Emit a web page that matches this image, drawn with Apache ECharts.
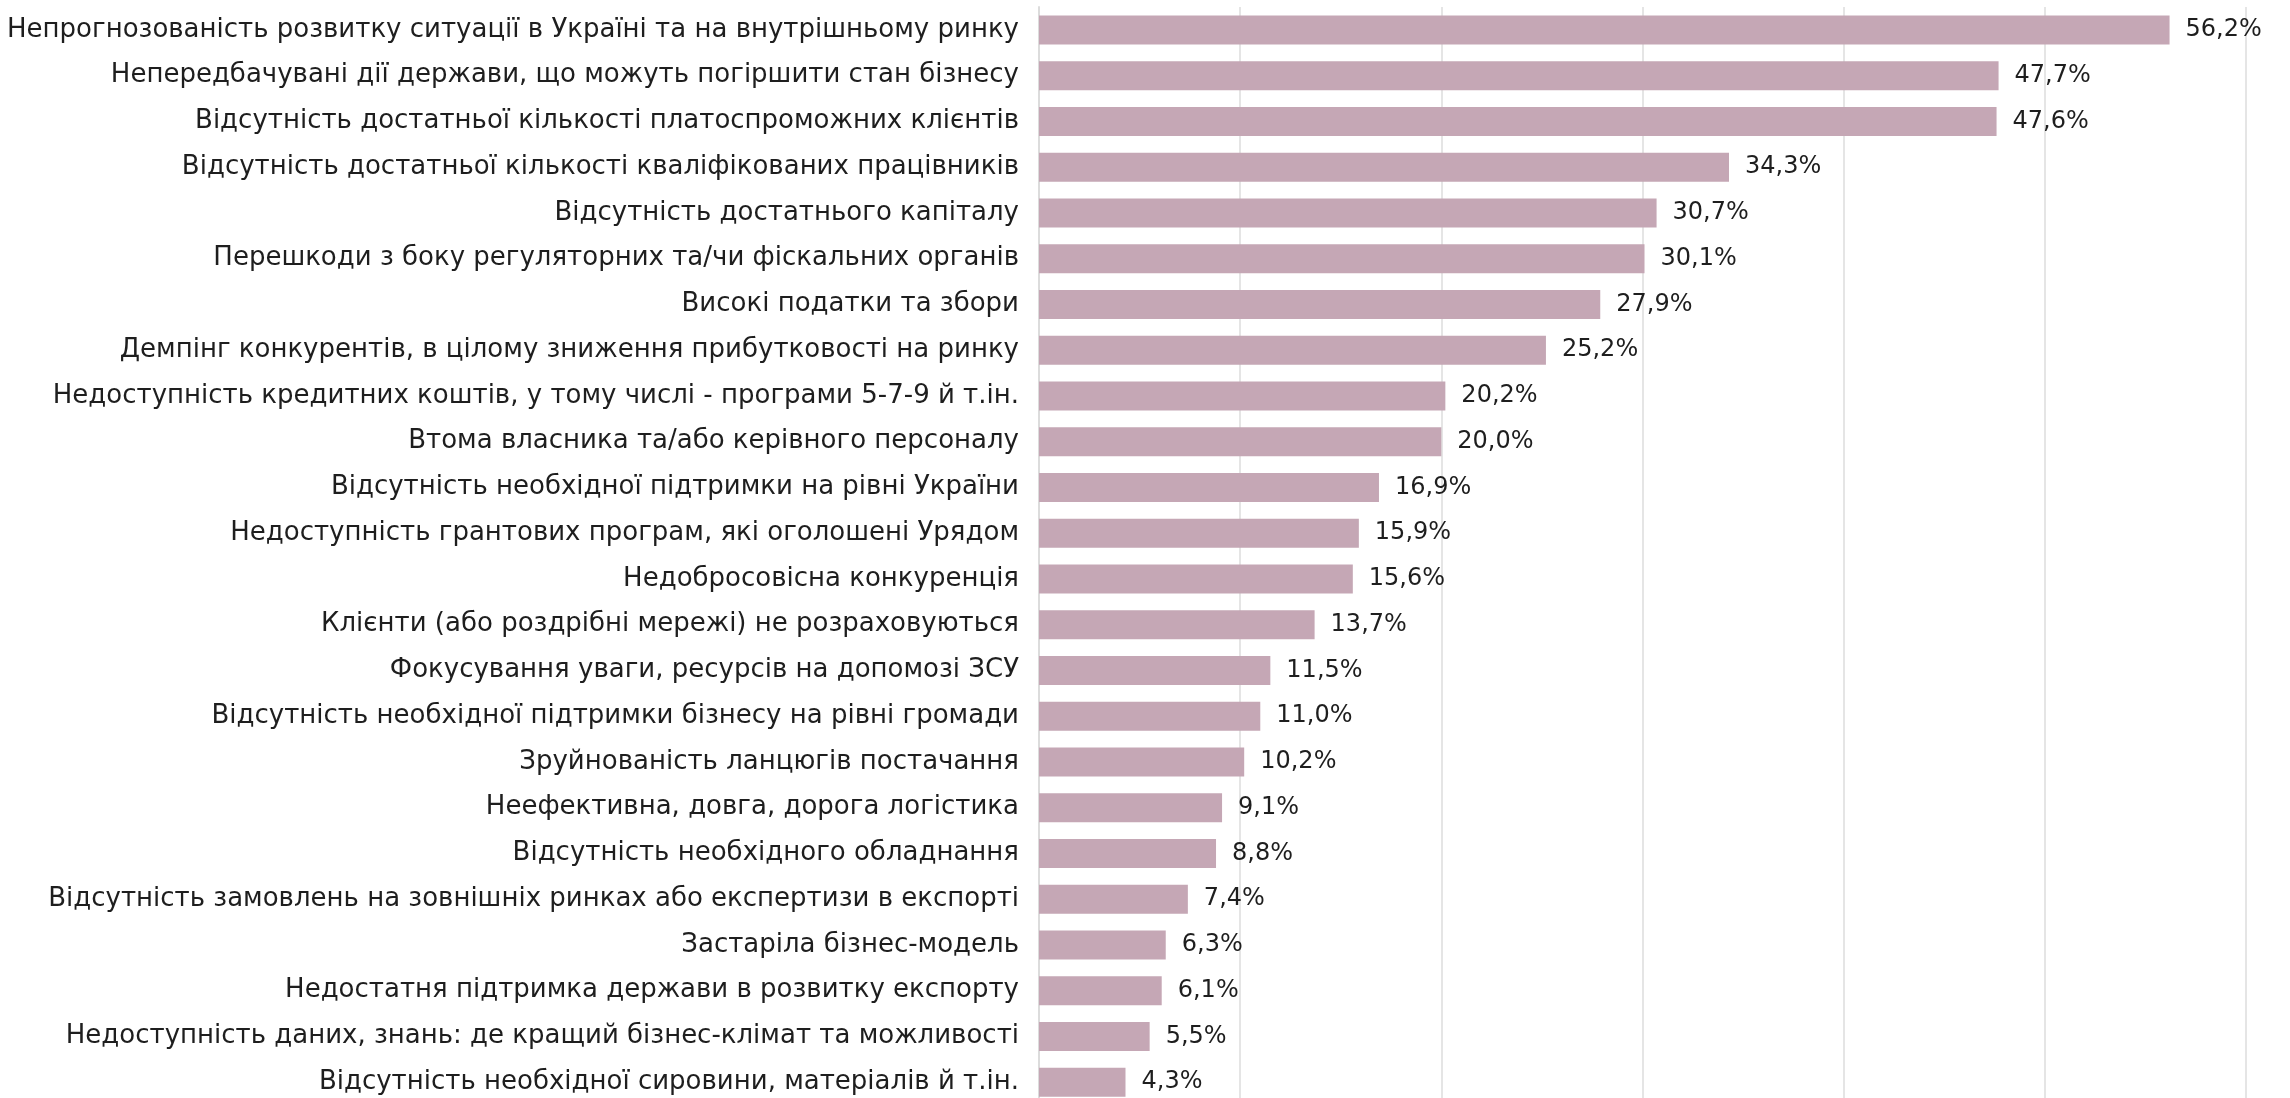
<!DOCTYPE html>
<html><head><meta charset="utf-8">
<script src="https://cdn.jsdelivr.net/npm/echarts@6/dist/echarts.min.js"></script>
<style>html,body{margin:0;padding:0;background:#fff;overflow:hidden}#c{width:2290px;height:1105px}</style>
</head><body><div id="c"></div>
<script>
const categories = [
  "Непрогнозованість розвитку ситуації в Україні та на внутрішньому ринку",
  "Непередбачувані дії держави, що можуть погіршити стан бізнесу",
  "Відсутність достатньої кількості платоспроможних клієнтів",
  "Відсутність достатньої кількості кваліфікованих працівників",
  "Відсутність достатнього капіталу",
  "Перешкоди з боку регуляторних та/чи фіскальних органів",
  "Високі податки та збори",
  "Демпінг конкурентів, в цілому зниження прибутковості на ринку",
  "Недоступність кредитних коштів, у тому числі - програми 5-7-9 й т.ін.",
  "Втома власника та/або керівного персоналу",
  "Відсутність необхідної підтримки на рівні України",
  "Недоступність грантових програм, які оголошені Урядом",
  "Недобросовісна конкуренція",
  "Клієнти (або роздрібні мережі) не розраховуються",
  "Фокусування уваги, ресурсів на допомозі ЗСУ",
  "Відсутність необхідної підтримки бізнесу на рівні громади",
  "Зруйнованість ланцюгів постачання",
  "Неефективна, довга, дорога логістика",
  "Відсутність необхідного обладнання",
  "Відсутність замовлень на зовнішніх ринках або експертизи в експорті",
  "Застаріла бізнес-модель",
  "Недостатня підтримка держави в розвитку експорту",
  "Недоступність даних, знань: де кращий бізнес-клімат та можливості",
  "Відсутність необхідної сировини, матеріалів й т.ін."
];
const values = [56.2, 47.7, 47.6, 34.3, 30.7, 30.1, 27.9, 25.2, 20.2, 20.0, 16.9, 15.9, 15.6, 13.7, 11.5, 11.0, 10.2, 9.1, 8.8, 7.4, 6.3, 6.1, 5.5, 4.3];

const chart = echarts.init(document.getElementById('c'), null, {renderer: 'canvas'});
chart.setOption({
  animation: false,
  grid: {left: 1039, right: 44, top: 7, bottom: 0, containLabel: false},
  xAxis: {
    type: 'value', min: 0, max: 60, interval: 10,
    axisLabel: {show: false}, axisTick: {show: false}, axisLine: {show: false},
    splitLine: {show: true, lineStyle: {color: '#dddddd', width: 1.5}}
  },
  yAxis: {
    type: 'category', data: categories, inverse: true,
    axisTick: {show: false},
    axisLine: {show: true, lineStyle: {color: '#dcdcdc', width: 2}},
    axisLabel: {color: '#1e1e1e', fontSize: 26, fontFamily: 'DejaVu Sans', margin: 20}
  },
  series: [{
    type: 'bar', data: values, barWidth: 29,
    itemStyle: {color: '#c5a7b5'},
    label: {
      show: true, position: 'right', distance: 16,
      color: '#1e1e1e', fontSize: 24, fontFamily: 'DejaVu Sans',
      formatter: p => p.value.toFixed(1).replace('.', ',') + '%'
    }
  }]
});
</script></body></html>
